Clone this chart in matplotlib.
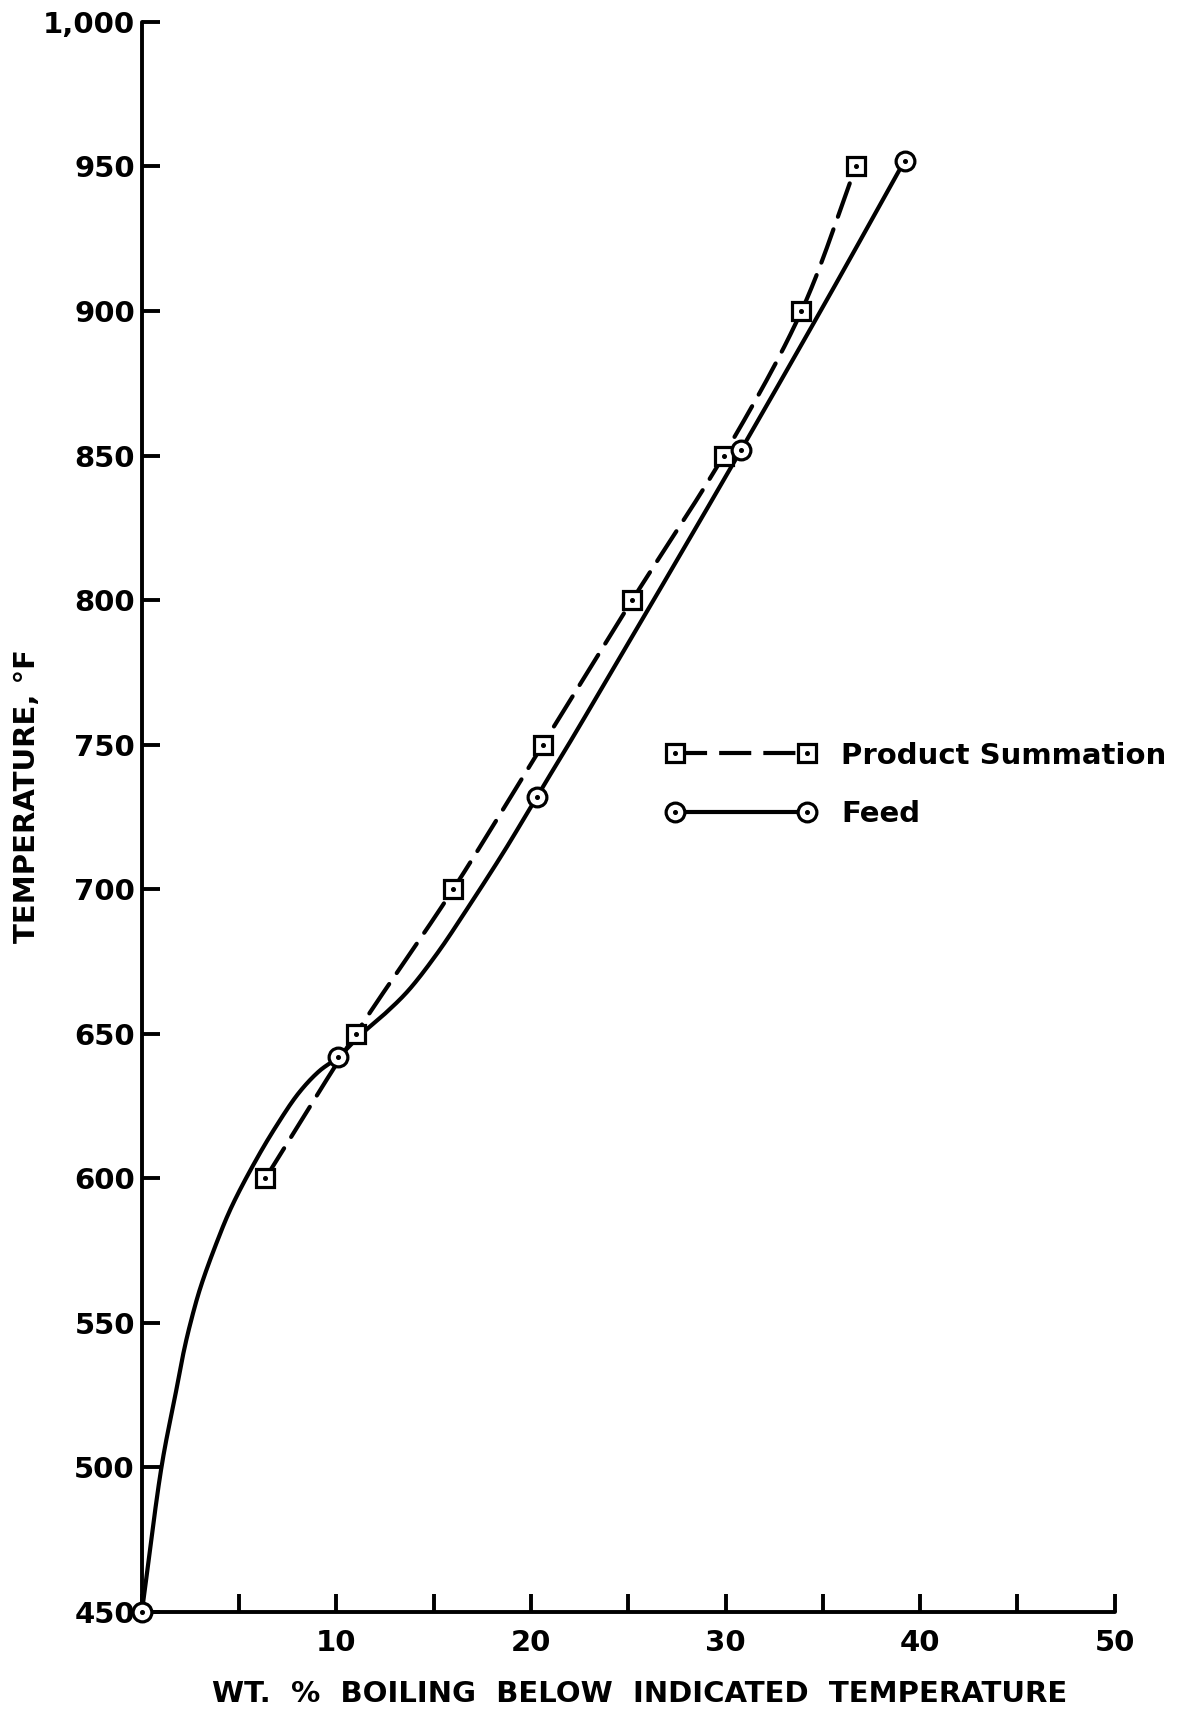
import numpy as np
import matplotlib
matplotlib.use("Agg")
import matplotlib.pyplot as plt
from matplotlib.lines import Line2D
from matplotlib.legend_handler import HandlerTuple

plt.rcParams['font.family'] = ['DejaVu Sans']
plt.rcParams['font.weight'] = 'bold'

# Product summation (squares), one point per 50 F
prod_temp = [600, 650, 700, 750, 800, 850, 900, 950]
prod_wt = [6.35, 11.0, 16.0, 20.6, 25.2, 29.9, 33.9, 36.7]

# Feed (circles) - the plotted points
feed_temp = [450, 642, 732, 852, 952]
feed_wt = [0.0, 10.1, 20.3, 30.8, 39.2]

# Feed curve as traced along its length
feed_curve_temp = [450, 501, 525, 540, 550, 562, 577, 590, 606, 618, 629.5, 637, 642,
                   650, 657, 665, 678, 692, 714, 732, 752, 776, 800, 852, 905, 952]
feed_curve_wt = [0.0, 1.03, 1.72, 2.15, 2.5, 3.0, 3.8, 4.6, 5.84, 6.9, 8.06, 9.1, 10.1,
                 11.3, 12.5, 13.7, 15.2, 16.6, 18.7, 20.3, 22.1, 24.2, 26.3, 30.8, 35.3, 39.2]

y_ticks = list(range(450, 1001, 50))
x_ticks = list(range(0, 51, 5))
x_labels = ['' if v % 10 or v == 0 else str(v) for v in x_ticks]

FS = 21


def smooth(xs, ys, n=25):
    # centripetal catmull-rom through the points, done in screen-like units
    scale = np.array([19.46, 2.89])
    q = np.column_stack([xs, ys]).astype(float) * scale
    q = np.vstack([2 * q[0] - q[1], q, 2 * q[-1] - q[-2]])
    out = []
    for i in range(1, len(q) - 2):
        p0, p1, p2, p3 = q[i - 1], q[i], q[i + 1], q[i + 2]
        t0 = 0.0
        t1 = t0 + np.linalg.norm(p1 - p0) ** 0.5
        t2 = t1 + np.linalg.norm(p2 - p1) ** 0.5
        t3 = t2 + np.linalg.norm(p3 - p2) ** 0.5
        t = np.linspace(t1, t2, n, endpoint=False)[:, None]
        a1 = (t1 - t) / (t1 - t0) * p0 + (t - t0) / (t1 - t0) * p1
        a2 = (t2 - t) / (t2 - t1) * p1 + (t - t1) / (t2 - t1) * p2
        a3 = (t3 - t) / (t3 - t2) * p2 + (t - t2) / (t3 - t2) * p3
        b1 = (t2 - t) / (t2 - t0) * a1 + (t - t0) / (t2 - t0) * a2
        b2 = (t3 - t) / (t3 - t1) * a2 + (t - t1) / (t3 - t1) * a3
        out.append((t2 - t) / (t2 - t1) * b1 + (t - t1) / (t2 - t1) * b2)
    out.append(q[-2][None])
    out = np.vstack(out) / scale
    return out[:, 0], out[:, 1]


fig = plt.figure(figsize=(11.91, 17.10), dpi=100)
ax = fig.add_axes([0.1191, 0.0573, 0.8169, 0.9299])

lw = 3.0
sx, sy = smooth(prod_wt, prod_temp)
ax.plot(sx, sy, color='black', lw=lw, dashes=(8.5, 3.2), solid_capstyle='round',
        dash_capstyle='round', zorder=2)
fx, fy = smooth(feed_curve_wt, feed_curve_temp)
ax.plot(fx, fy, color='black', lw=lw, solid_capstyle='round', zorder=2, clip_on=False)

mk = dict(mfc='white', mec='black', mew=2.3, ms=13.5)
dot = dict(ls='none', marker='o', color='black', ms=2.6)
ax.plot(prod_wt, prod_temp, ls='none', marker='s', zorder=4, clip_on=False, **mk)
ax.plot(prod_wt, prod_temp, zorder=5, clip_on=False, **dot)
ax.plot(feed_wt, feed_temp, ls='none', marker='o', zorder=4, clip_on=False, **mk)
ax.plot(feed_wt, feed_temp, zorder=5, clip_on=False, **dot)

ax.set_xlim(0, 50)
ax.set_ylim(450, 1000)
ax.set_xticks(x_ticks)
ax.set_xticklabels(x_labels)
ax.set_yticks(y_ticks)
ax.set_yticklabels([f"{v:,}" for v in y_ticks])
ax.tick_params(direction='in', length=13, width=2.8, labelsize=FS)
ax.tick_params(axis='x', pad=12)
ax.tick_params(axis='y', pad=5)
for side in ('top', 'right'):
    ax.spines[side].set_visible(False)
for side in ('left', 'bottom'):
    ax.spines[side].set_linewidth(2.8)
    ax.spines[side].set_capstyle('round')

# legend handles: line with end markers plus the centre dots
h_prod = (Line2D([], [], color='black', lw=lw, dashes=(7.7, 2.9), marker='s', **mk),
          Line2D([], [], **dot))
h_feed = (Line2D([], [], color='black', lw=lw, marker='o', **mk),
          Line2D([], [], **dot))
ax.legend([h_prod, h_feed], ['Product Summation', 'Feed'],
          handler_map={tuple: HandlerTuple(ndivide=1)},
          numpoints=2, handlelength=5.1, handletextpad=0.88, labelspacing=1.04,
          frameon=False, fontsize=FS, loc='upper left', borderpad=0,
          bbox_to_anchor=(0.5245, 0.5565))

fig.text(640 / 1191, 1 - 1694 / 1710, 'WT.  %  BOILING  BELOW  INDICATED  TEMPERATURE',
         fontsize=FS, ha='center', va='center')
fig.text(27 / 1191, 1 - 796 / 1710, 'TEMPERATURE, °F', fontsize=FS,
         rotation=90, ha='center', va='center')

fig.savefig('out.png', dpi=100)
